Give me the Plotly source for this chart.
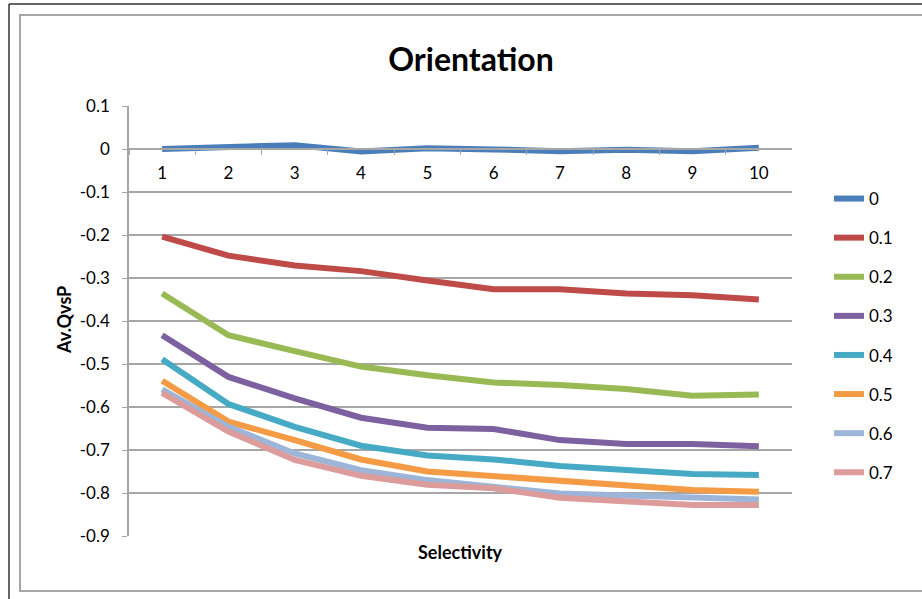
import plotly.graph_objects as go

# Selectivity categories on the x axis
selectivity = ["1", "2", "3", "4", "5", "6", "7", "8", "9", "10"]

# Av.QvsP for each orientation level
s_0 = [0.000, 0.003, 0.009, -0.006, 0.002, -0.001, -0.005, -0.002, -0.005, 0.003]
s_01 = [-0.204, -0.248, -0.271, -0.284, -0.306, -0.326, -0.326, -0.336, -0.340, -0.350]
s_02 = [-0.336, -0.433, -0.470, -0.506, -0.526, -0.543, -0.549, -0.558, -0.574, -0.571]
s_03 = [-0.433, -0.530, -0.580, -0.625, -0.648, -0.651, -0.677, -0.686, -0.686, -0.691]
s_04 = [-0.489, -0.593, -0.646, -0.690, -0.713, -0.722, -0.737, -0.745, -0.756, -0.758]
s_05 = [-0.539, -0.634, -0.677, -0.722, -0.750, -0.760, -0.770, -0.781, -0.793, -0.797]
s_06 = [-0.559, -0.646, -0.708, -0.747, -0.770, -0.785, -0.801, -0.806, -0.809, -0.815]
s_07 = [-0.567, -0.657, -0.723, -0.760, -0.781, -0.789, -0.811, -0.819, -0.828, -0.828]

series_names = ["0", "0.1", "0.2", "0.3", "0.4", "0.5", "0.6", "0.7"]
series_values = [s_0, s_01, s_02, s_03, s_04, s_05, s_06, s_07]
series_colors = ["#4A7EBB", "#BE4B48", "#98B954", "#7D60A0",
                 "#46AAC5", "#F59A45", "#9CB5D9", "#DB9C9B"]

y_ticks = [0.1, 0.0, -0.1, -0.2, -0.3, -0.4, -0.5, -0.6, -0.7, -0.8, -0.9]
y_tick_text = ["0.1", "0", "-0.1", "-0.2", "-0.3", "-0.4", "-0.5", "-0.6", "-0.7", "-0.8", "-0.9"]
y_min, y_max = -0.9, 0.1

W, H = 922, 599
FONT = "Lato, 'Open Sans', sans-serif"
GRID = "#A6A6A6"
TICK_SIZE = 17

# plot area in pixels
px_left, px_right = 129, 792
px_top, px_bottom = 106, 536
x_dom = [px_left / W, px_right / W]
y_dom = [1 - px_bottom / H, 1 - px_top / H]

# the category axis crosses the value axis at 0
cross_pos = y_dom[0] + (0 - y_min) / (y_max - y_min) * (y_dom[1] - y_dom[0])

fig = go.Figure()
for i, (name, vals, col) in enumerate(zip(series_names, series_values, series_colors)):
    fig.add_trace(go.Scatter(
        x=selectivity, y=vals, mode="lines", name=name,
        legendgroup=f"g{i}",
        line=dict(color=col, width=6),
    ))

fig.update_layout(
    width=W, height=H,
    margin=dict(l=0, r=0, t=0, b=0, autoexpand=False),
    paper_bgcolor="white", plot_bgcolor="white",
    font=dict(family=FONT, size=TICK_SIZE, color="black"),
    title=dict(text="<b>Orientation</b>", x=471 / W, xanchor="center",
               y=1 - 60 / H, yanchor="middle", automargin=False,
               font=dict(family=FONT, size=32, color="black")),
    xaxis=dict(
        type="category", domain=x_dom, range=[-0.5, 9.5],
        anchor="free", position=cross_pos, automargin=False,
        showline=True, linecolor=GRID, linewidth=1.5,
        ticks="outside", tickson="boundaries", ticklen=5, tickcolor=GRID,
        ticklabelstandoff=9,
        showgrid=False, zeroline=False,
        tickfont=dict(family=FONT, size=TICK_SIZE),
    ),
    yaxis=dict(
        domain=y_dom, range=[y_min, y_max], automargin=False,
        tickvals=y_ticks, ticktext=y_tick_text,
        showline=True, linecolor=GRID, linewidth=1.5,
        ticks="outside", ticklen=5, tickcolor=GRID,
        ticklabelstandoff=9,
        showgrid=True, gridcolor=GRID, gridwidth=1.5,
        zeroline=False, tickfont=dict(family=FONT, size=TICK_SIZE),
    ),
    legend=dict(
        x=829 / W, xanchor="left", y=1 - 181 / H, yanchor="top",
        font=dict(family=FONT, size=TICK_SIZE), tracegroupgap=14,
        bgcolor="rgba(0,0,0,0)", itemwidth=30,
    ),
    showlegend=True,
)

# axis titles
fig.add_annotation(text="<b>Selectivity</b>", xref="paper", yref="paper",
                   x=460 / W, y=1 - 552 / H, showarrow=False,
                   font=dict(family=FONT, size=18), xanchor="center", yanchor="middle")
fig.add_annotation(text="<b>Av.QvsP</b>", xref="paper", yref="paper",
                   x=64 / W, y=1 - 320 / H, showarrow=False, textangle=-90,
                   font=dict(family=FONT, size=18), xanchor="center", yanchor="middle")

# chart frame: dark outer edge and grey chart-area border
fig.add_shape(type="line", xref="paper", yref="paper",
              x0=9 / W, x1=1.01, y0=1 - 4 / H, y1=1 - 4 / H,
              line=dict(color="#333333", width=1.5))
fig.add_shape(type="line", xref="paper", yref="paper",
              x0=9 / W, x1=9 / W, y0=1 - 4 / H, y1=-0.01,
              line=dict(color="#333333", width=1.5))
fig.add_shape(type="rect", xref="paper", yref="paper",
              x0=20 / W, x1=1.02, y0=1 - 591 / H, y1=1 - 15 / H,
              line=dict(color="#A6A6A6", width=2))

fig.write_html("out.html")
